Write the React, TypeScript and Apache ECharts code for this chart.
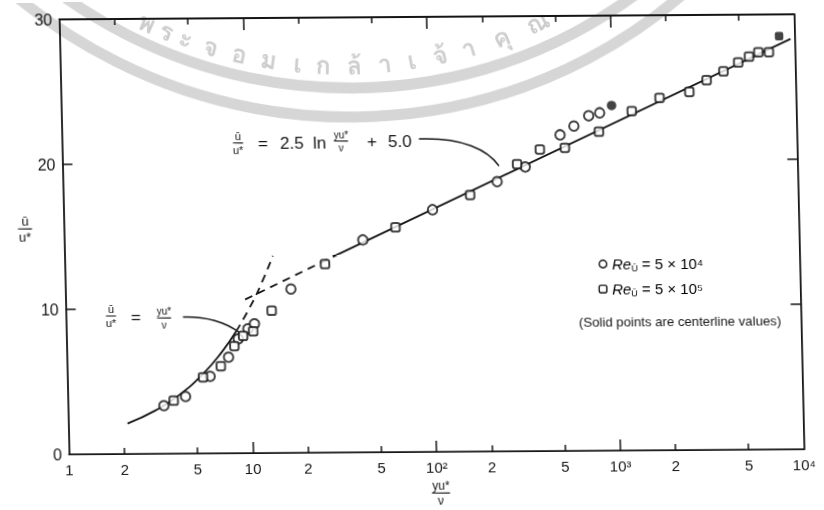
import React, { useEffect, useRef } from "react";
import * as echarts from "echarts";

// ---------- data ----------
const xLabelValues = [1, 2, 5, 10, 20, 50, 100, 200, 500, 1000, 2000, 5000, 10000];
const xLabelTexts = ["1", "2", "5", "10", "2", "5", "10²", "2", "5", "10³", "2", "5", "10⁴"];
const xMajorTicks = [10, 100, 1000];
const xMinorTicks = [2, 5, 20, 50, 200, 500, 2000, 5000];
const yTickValues = [10, 20];

// u/u* = y u*/nu (viscous sublayer)
const viscousSolid = [[2.1, 2.1], [3, 3], [4, 4], [5.5, 5.5], [7, 7], [8.4, 8.4]];
const viscousDashed = [[8.4, 8.4], [10, 10], [11.8, 11.8], [13.6, 13.6]];
// u/u* = 2.5 ln(y u*/nu) + 5.0
const logDashed = [[9.5, 10.6], [30, 13.6]];
const logSolid = [[30, 13.6], [9500, 28.3]];

// Re = 5 x 10^4 (circles)
const reLow = [
  [3.33, 3.32], [4.38, 3.94], [5.99, 5.32], [7.59, 6.63], [8.61, 7.88],
  [9.75, 8.57], [10.6, 8.92], [16.9, 11.3], [42.2, 14.65], [102, 16.7],
  [231, 18.6], [330, 19.6], [515, 21.8], [614, 22.4], [741, 23.1], [851, 23.3],
];
const reLowCenter = [[990, 23.8]];
// Re = 5 x 10^5 (squares)
const reHigh = [
  [3.77, 3.66], [5.48, 5.25], [6.87, 6.01], [8.19, 7.39], [9.16, 8.09],
  [10.4, 8.4], [13.2, 9.81], [26.1, 13.0], [63.8, 15.5], [164, 17.7],
  [298, 19.8], [398, 20.8], [545, 20.9], [839, 22.0], [1273, 23.4],
  [1811, 24.3], [2634, 24.7], [3282, 25.5], [4062, 26.1], [4900, 26.7],
  [5620, 27.1], [6330, 27.4], [7220, 27.4],
];
const reHighCenter = [[8240, 28.5]];

const legendLines = ["5 × 10⁴", "5 × 10⁵"];
const noteText = "(Solid points are centerline values)";
const watermarkClusters = ["พ", "ร", "ะ", "จ", "อ", "ม", "เ", "ก", "ล้", "า", "เ", "จ้", "า", "คุ", "ณ"];
const watermarkX = [142, 162, 182, 208, 237, 267, 297, 323, 355, 386, 414, 443, 472, 506, 543];

// ---------- styling ----------
const INK = "#151515";
const FONT = "'Liberation Sans', Arial, sans-serif";
const SKX = Math.tan((1.3 * Math.PI) / 180);
const SKY = Math.tan((0.4 * Math.PI) / 180);
const CX0 = 412;
const CY0 = 255;
// picture coords -> container coords (the container is skewed like the scan)
function at(X: number, Y: number): [number, number] {
  const x = X - SKX * (Y - CY0);
  const y = Y + SKY * (x - CX0);
  return [x, y];
}

function txt(X: number, Y: number, text: string, size: number, align = "left", extra: any = {}) {
  const [x, y] = at(X, Y);
  return {
    type: "text",
    x,
    y,
    silent: true,
    style: {
      text,
      fill: INK,
      font: `${size}px ${FONT}`,
      textAlign: align,
      textVerticalAlign: "middle",
      ...extra,
    },
  };
}

function frac(X: number, Y: number, num: string, den: string, size: number, w: number) {
  const [x1, y1] = at(X - w / 2, Y);
  const [x2, y2] = at(X + w / 2, Y);
  return [
    txt(X, Y - 1.5 - size / 2, num, size, "center"),
    { type: "line", silent: true, shape: { x1, y1, x2, y2 }, style: { stroke: INK, lineWidth: 1.1 } },
    txt(X, Y + 2 + size / 2, den, size, "center"),
  ];
}

function curve(pts: number[][]) {
  const p = pts.map((q) => at(q[0], q[1]));
  return {
    type: "bezierCurve",
    silent: true,
    shape: {
      x1: p[0][0], y1: p[0][1],
      cpx1: p[1][0], cpy1: p[1][1],
      cpx2: p[2][0], cpy2: p[2][1],
      x2: p[3][0], y2: p[3][1],
    },
    style: { stroke: INK, lineWidth: 1.5, fill: "none" },
  };
}

function labelFor(v: number) {
  const i = xLabelValues.findIndex((t) => Math.abs(Math.log10(t) - Math.log10(v)) < 1e-6);
  return i >= 0 ? xLabelTexts[i] : "";
}

function watermark() {
  const cx = 342, cy = -400;
  const [ccx, ccy] = at(cx, cy);
  const items: any[] = [];
  const bands = [488, 517];
  bands.forEach((r) => {
    items.push({
      type: "arc",
      silent: true,
      shape: { cx: ccx, cy: ccy, r, startAngle: Math.PI / 2 - 0.9, endAngle: Math.PI / 2 + 0.9, clockwise: true },
      style: { stroke: "#d6d6d6", lineWidth: 11, fill: "none" },
    });
  });
  const rt = 478;
  watermarkClusters.forEach((c, i) => {
    const th = Math.asin((watermarkX[i] - cx) / rt);
    const X = cx + rt * Math.sin(th);
    const Y = cy + rt * Math.cos(th);
    const [x, y] = at(X, Y);
    items.push({
      type: "text",
      silent: true,
      x,
      y,
      rotation: th,
      style: {
        text: c,
        fill: "#cdcdcd",
        font: `bold 25px Loma, Garuda, 'Noto Sans Thai', 'TlwgTypo', sans-serif`,
        textAlign: "center",
        textVerticalAlign: "bottom",
      },
    });
  });
  return items;
}

function axisCommon(extra: any) {
  return {
    type: "log",
    logBase: 10,
    min: 1,
    max: 10000,
    splitLine: { show: false },
    minorTick: { show: false },
    minorSplitLine: { show: false },
    ...extra,
  };
}

export default function App() {
  const ref = useRef<HTMLDivElement>(null);
  useEffect(() => {
    if (!ref.current) return;
    const chart = echarts.init(ref.current, undefined, { renderer: "svg" });
    const axisLine = { show: true, lineStyle: { color: INK, width: 1.8 } };
    const noLine = { show: false };
    const noLabel = { show: false };
    const tickStyle = { color: INK, width: 1.5 };

    const legendRich = {
      i: { fontStyle: "italic", fontSize: 15, fontFamily: FONT, lineHeight: 18, color: INK },
      s: { fontSize: 9, fontFamily: FONT, lineHeight: 9, verticalAlign: "bottom", color: INK },
      t: { fontSize: 15, fontFamily: FONT, lineHeight: 18, color: INK },
    };
    const [l1x, l1y] = at(603, 264);
    const [l2x, l2y] = at(603, 289);

    const graphic: any[] = [
      ...watermark(),
      // y axis name  u/u*
      ...frac(25, 229, "ū", "u*", 13, 14),
      // x axis name  y u*/nu
      ...frac(441, 493, "yu*", "ν", 12, 18),
      // upper equation
      ...frac(238, 143, "ū", "u*", 11, 10),
      txt(263, 143, "=", 17, "center"),
      txt(280, 143, "2.5", 17),
      txt(313, 143, "ln", 17),
      ...frac(341, 141, "yu*", "ν", 10, 14),
      txt(372, 142, "+", 17, "center"),
      txt(388, 142, "5.0", 17),
      curve([[419, 139], [462, 137], [488, 150], [499, 166]]),
      // lower equation
      ...frac(111, 316, "ū", "u*", 11, 10),
      txt(136, 317, "=", 17, "center"),
      ...frac(164, 318, "yu*", "ν", 10, 14),
      curve([[183, 317], [205, 316], [226, 322], [240, 333]]),
      // legend
      { type: "circle", silent: true, shape: { cx: l1x, cy: l1y, r: 3.8 }, style: { fill: "#fff", stroke: INK, lineWidth: 1.4 } },
      {
        type: "text", silent: true, x: at(612, 264)[0], y: at(612, 264)[1],
        style: { text: `{i|Re}{s|Ū}{t| = ${legendLines[0]}}`, rich: legendRich, textVerticalAlign: "middle" },
      },
      { type: "rect", silent: true, shape: { x: l2x - 3.8, y: l2y - 3.8, width: 7.6, height: 7.6, r: 2 }, style: { fill: "#fff", stroke: INK, lineWidth: 1.4 } },
      {
        type: "text", silent: true, x: at(612, 289)[0], y: at(612, 289)[1],
        style: { text: `{i|Re}{s|Ū}{t| = ${legendLines[1]}}`, rich: legendRich, textVerticalAlign: "middle" },
      },
      txt(680, 322, noteText, 13.2, "center"),
    ];

    const scatterBase = {
      type: "scatter",
      xAxisIndex: 0,
      yAxisIndex: 0,
      symbolSize: 9.5,
      z: 5,
    };
    const lineBase = {
      type: "line",
      xAxisIndex: 0,
      yAxisIndex: 0,
      showSymbol: false,
      symbol: "none",
      z: 3,
    };

    chart.setOption({
      animation: false,
      backgroundColor: "#ffffff",
      grid: { left: 64.5, right: 24.5, top: 17, bottom: 58 },
      xAxis: [
        axisCommon({
          position: "bottom",
          axisLine,
          axisTick: { show: true, inside: true, length: 6, customValues: xMinorTicks, lineStyle: tickStyle },
          axisLabel: {
            show: true, customValues: xLabelValues, formatter: labelFor, margin: 8,
            color: INK, fontSize: 15, fontFamily: FONT,
          },
        }),
        axisCommon({
          position: "bottom",
          axisLine: noLine,
          axisTick: { show: true, inside: true, length: 11, customValues: xMajorTicks, lineStyle: tickStyle },
          axisLabel: noLabel,
        }),
        axisCommon({
          position: "top",
          axisLine,
          axisTick: { show: true, inside: true, length: 6, customValues: xMinorTicks, lineStyle: tickStyle },
          axisLabel: noLabel,
        }),
        axisCommon({
          position: "top",
          axisLine: noLine,
          axisTick: { show: true, inside: true, length: 12, customValues: xMajorTicks, lineStyle: tickStyle },
          axisLabel: noLabel,
        }),
      ],
      yAxis: [
        {
          type: "value", min: 0, max: 30, interval: 10, position: "left",
          axisLine,
          axisTick: { show: true, inside: true, length: 10, customValues: yTickValues, lineStyle: tickStyle },
          axisLabel: { show: true, margin: 7, color: INK, fontSize: 16, fontFamily: FONT },
          splitLine: { show: false },
        },
        {
          type: "value", min: 0, max: 30, interval: 10, position: "right",
          axisLine,
          axisTick: { show: true, inside: true, length: 10, customValues: yTickValues, lineStyle: tickStyle },
          axisLabel: noLabel,
          splitLine: { show: false },
        },
      ],
      series: [
        { ...lineBase, name: "viscous", data: viscousSolid, smooth: true, lineStyle: { color: INK, width: 1.8 } },
        { ...lineBase, name: "viscous ext", data: viscousDashed, smooth: true, lineStyle: { color: INK, width: 1.8, type: [8, 6] } },
        { ...lineBase, name: "log ext", data: logDashed, lineStyle: { color: INK, width: 1.8, type: [8, 6] } },
        { ...lineBase, name: "log law", data: logSolid, lineStyle: { color: INK, width: 1.8 } },
        { ...scatterBase, name: "Re 5e4", data: reLow, symbol: "emptyCircle", itemStyle: { color: INK, borderWidth: 1.6 } },
        { ...scatterBase, name: "Re 5e4 centerline", data: reLowCenter, symbol: "circle", itemStyle: { color: INK } },
        { ...scatterBase, name: "Re 5e5", data: reHigh, symbol: "emptyRoundRect", symbolSize: 8.5, itemStyle: { color: INK, borderWidth: 1.6 } },
        { ...scatterBase, name: "Re 5e5 centerline", data: reHighCenter, symbol: "roundRect", symbolSize: 8.5, itemStyle: { color: INK } },
      ],
      graphic,
    });
    return () => chart.dispose();
  }, []);

  return (
    <div
      ref={ref}
      style={{
        position: "fixed",
        left: 0,
        top: 0,
        width: 824,
        height: 510,
        background: "#fff",
        transform: "skewX(1.3deg) skewY(-0.4deg)",
        transformOrigin: "412px 255px",
      }}
    />
  );
}
